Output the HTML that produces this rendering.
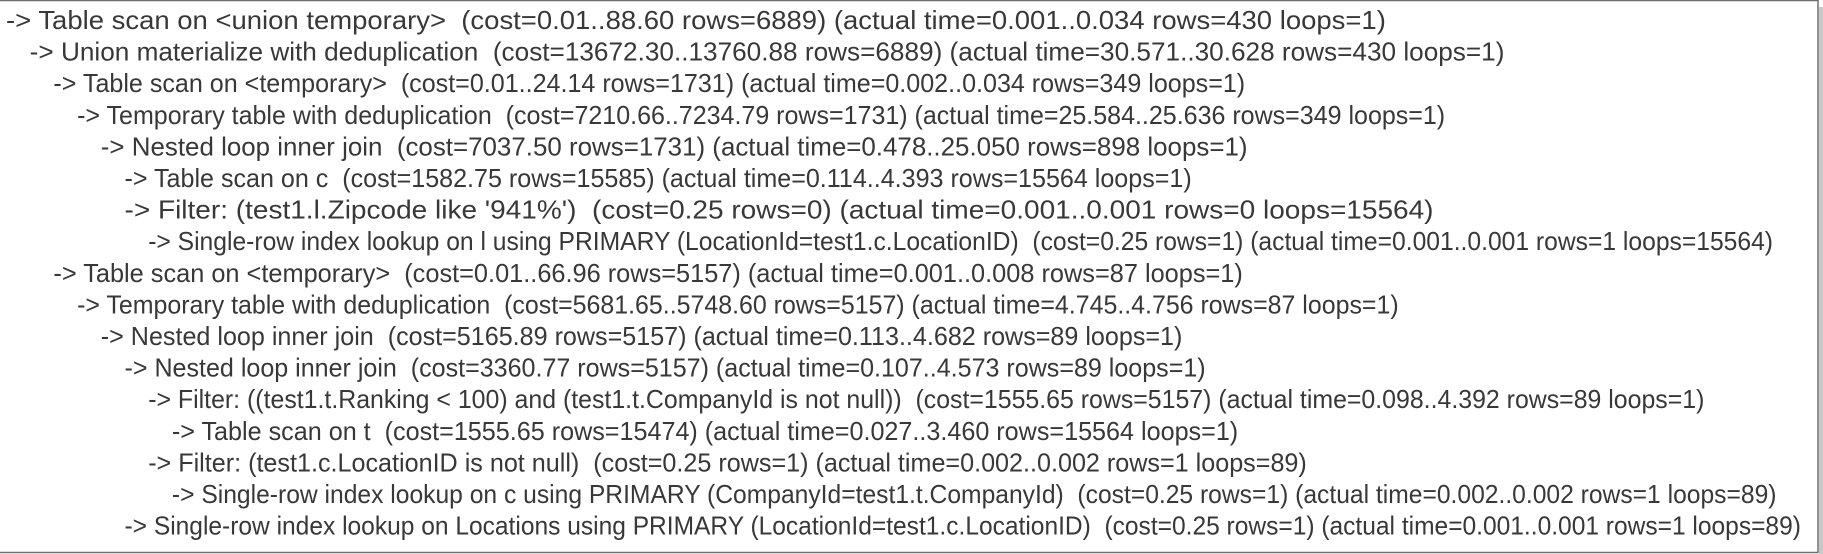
<!DOCTYPE html>
<html><head><meta charset="utf-8"><style>
html,body{margin:0;padding:0;background:#fff;}
#wrap{position:relative;width:1823px;height:554px;overflow:hidden;}
svg text{font-family:"Liberation Sans",sans-serif;font-size:26px;fill:#383838;white-space:pre;}
</style></head><body>
<div id="wrap">
<svg width="1823" height="554">
<rect x="0" y="0" width="1818" height="552" fill="#fff"/>
<rect x="1819" y="7" width="4" height="547" fill="#c8c8c8"/>
<line x1="0" y1="0.5" x2="1818" y2="0.5" stroke="#6e6e6e" stroke-width="1.5"/>
<line x1="1818" y1="0" x2="1818" y2="553" stroke="#6e6e6e" stroke-width="1.5"/>
<line x1="0" y1="552.5" x2="1818" y2="552.5" stroke="#6e6e6e" stroke-width="1.5"/>
<g id="lines"></g>
</svg>
</div>
<script>
const planLines = [
"-> Table scan on <union temporary>  (cost=0.01..88.60 rows=6889) (actual time=0.001..0.034 rows=430 loops=1)",
"-> Union materialize with deduplication  (cost=13672.30..13760.88 rows=6889) (actual time=30.571..30.628 rows=430 loops=1)",
"-> Table scan on <temporary>  (cost=0.01..24.14 rows=1731) (actual time=0.002..0.034 rows=349 loops=1)",
"-> Temporary table with deduplication  (cost=7210.66..7234.79 rows=1731) (actual time=25.584..25.636 rows=349 loops=1)",
"-> Nested loop inner join  (cost=7037.50 rows=1731) (actual time=0.478..25.050 rows=898 loops=1)",
"-> Table scan on c  (cost=1582.75 rows=15585) (actual time=0.114..4.393 rows=15564 loops=1)",
"-> Filter: (test1.l.Zipcode like '941%')  (cost=0.25 rows=0) (actual time=0.001..0.001 rows=0 loops=15564)",
"-> Single-row index lookup on l using PRIMARY (LocationId=test1.c.LocationID)  (cost=0.25 rows=1) (actual time=0.001..0.001 rows=1 loops=15564)",
"-> Table scan on <temporary>  (cost=0.01..66.96 rows=5157) (actual time=0.001..0.008 rows=87 loops=1)",
"-> Temporary table with deduplication  (cost=5681.65..5748.60 rows=5157) (actual time=4.745..4.756 rows=87 loops=1)",
"-> Nested loop inner join  (cost=5165.89 rows=5157) (actual time=0.113..4.682 rows=89 loops=1)",
"-> Nested loop inner join  (cost=3360.77 rows=5157) (actual time=0.107..4.573 rows=89 loops=1)",
"-> Filter: ((test1.t.Ranking < 100) and (test1.t.CompanyId is not null))  (cost=1555.65 rows=5157) (actual time=0.098..4.392 rows=89 loops=1)",
"-> Table scan on t  (cost=1555.65 rows=15474) (actual time=0.027..3.460 rows=15564 loops=1)",
"-> Filter: (test1.c.LocationID is not null)  (cost=0.25 rows=1) (actual time=0.002..0.002 rows=1 loops=89)",
"-> Single-row index lookup on c using PRIMARY (CompanyId=test1.t.CompanyId)  (cost=0.25 rows=1) (actual time=0.002..0.002 rows=1 loops=89)",
"-> Single-row index lookup on Locations using PRIMARY (LocationId=test1.c.LocationID)  (cost=0.25 rows=1) (actual time=0.001..0.001 rows=1 loops=89)"
];
const levels = [0,1,2,3,4,5,5,6,2,3,4,5,6,7,6,7,5];
const endX = [1192,1294,1071,1243,1073,1025,1233,1525,1069,1203,1017,1037,1466,1065,1124,1528,1549];
const S = 1823/1568;
const g = document.getElementById('lines');
planLines.forEach((t,i)=>{
  const x = 6 + levels[i]*23.7;
  const el = document.createElementNS('http://www.w3.org/2000/svg','text');
  
  
  el.setAttribute('x', x);
  el.setAttribute('y', 29 + i*31.6);
  el.setAttribute('textLength', endX[i]*S - x);
  el.setAttribute('lengthAdjust', 'spacingAndGlyphs');
  el.textContent = t;
  g.appendChild(el);
});
</script>
</body></html>
